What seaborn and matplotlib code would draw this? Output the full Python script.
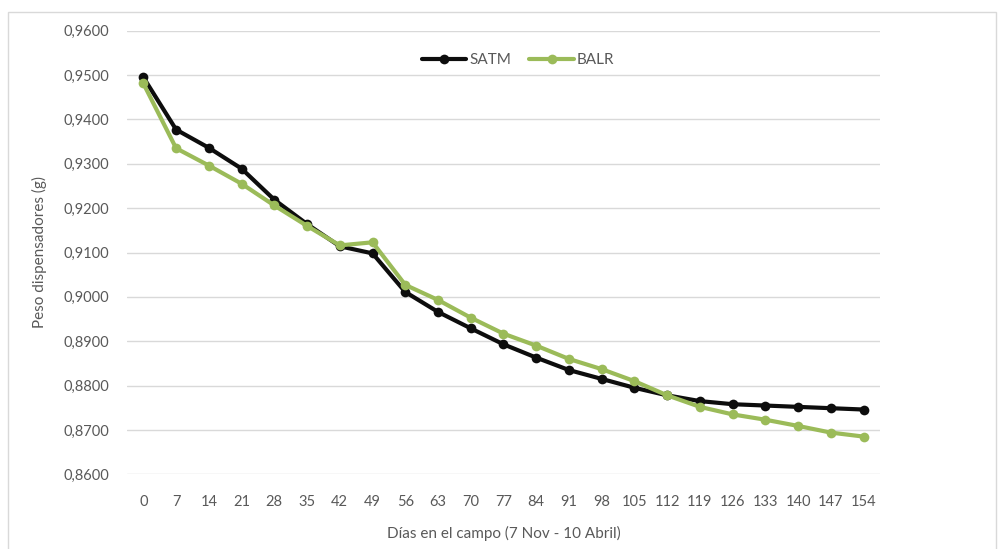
import numpy as np
import pandas as pd
import matplotlib
matplotlib.use('Agg')
import matplotlib.pyplot as plt
from matplotlib.patches import Rectangle
import seaborn as sns

# days in the field
dias = [0, 7, 14, 21, 28, 35, 42, 49, 56, 63, 70, 77, 84, 91, 98, 105, 112,
        119, 126, 133, 140, 147, 154]

satm = [0.9495, 0.9377, 0.9336, 0.9289, 0.9219, 0.9164, 0.9114, 0.9098,
        0.9011, 0.8966, 0.8929, 0.8893, 0.8863, 0.8835, 0.8815, 0.8795,
        0.8778, 0.8765, 0.8758, 0.8755, 0.8752, 0.8749, 0.8746]
balr = [0.9481, 0.9335, 0.9296, 0.9255, 0.9206, 0.9160, 0.9116, 0.9123,
        0.9027, 0.8993, 0.8953, 0.8917, 0.8890, 0.8860, 0.8837, 0.8810,
        0.8778, 0.8752, 0.8735, 0.8723, 0.8709, 0.8694, 0.8685]

series_names = ['SATM', 'BALR']
y_ticks = [0.86, 0.87, 0.88, 0.89, 0.90, 0.91, 0.92, 0.93, 0.94, 0.95, 0.96]

df = pd.DataFrame({'dias': dias * 2,
                   'peso': satm + balr,
                   'serie': [series_names[0]] * len(dias) + [series_names[1]] * len(dias)})

sns.set_style('white')
plt.rcParams['font.family'] = ['Lato', 'DejaVu Sans']
gris = '#595959'

fig = plt.figure(figsize=(10.03, 5.49), dpi=100)
ax = fig.add_axes([127 / 1003, 1 - 474.3 / 549, 753 / 1003, 443.6 / 549])

# outer chart frame
fig.patches.append(Rectangle((8 / 1003, -0.1), 988 / 1003, 1.1 - 11.5 / 549,
                             transform=fig.transFigure, fill=False,
                             edgecolor='#d9d9d9', linewidth=1))

sns.lineplot(data=df, x='dias', y='peso', hue='serie',
             palette={'SATM': '#0d0d0d', 'BALR': '#9bbb59'},
             marker='o', markersize=7, markeredgewidth=0, linewidth=3,
             ax=ax, legend=True)

ax.set_xlim(-3.5, 157.5)
ax.set_ylim(0.86, 0.96)
ax.set_xticks(dias)
ax.set_xticklabels([str(d) for d in dias])
ax.set_yticks(y_ticks)
ax.set_yticklabels([f'{v:.4f}'.replace('.', ',') for v in y_ticks])
ax.yaxis.grid(True, color='#d9d9d9', linewidth=1)
ax.set_axisbelow(True)
for s in ax.spines.values():
    s.set_visible(False)
ax.tick_params(axis='both', length=0, labelsize=10.5, colors=gris)
ax.tick_params(axis='y', pad=13)
ax.tick_params(axis='x', pad=15)

ax.set_xlabel('Días en el campo (7 Nov - 10 Abril)', fontsize=11, color=gris, labelpad=12)
ax.set_ylabel('Peso dispensadores (g)', fontsize=11, color=gris, labelpad=12)

h, l = ax.get_legend_handles_labels()
ax.legend(h, l, loc='center', bbox_to_anchor=(518 / 1003, 1 - 60 / 549),
          bbox_transform=fig.transFigure, ncol=2, frameon=False,
          fontsize=11, labelcolor=gris, handlelength=2.9,
          handletextpad=0.2, columnspacing=1.2)

plt.savefig('out.png', dpi=100)
plt.close()
